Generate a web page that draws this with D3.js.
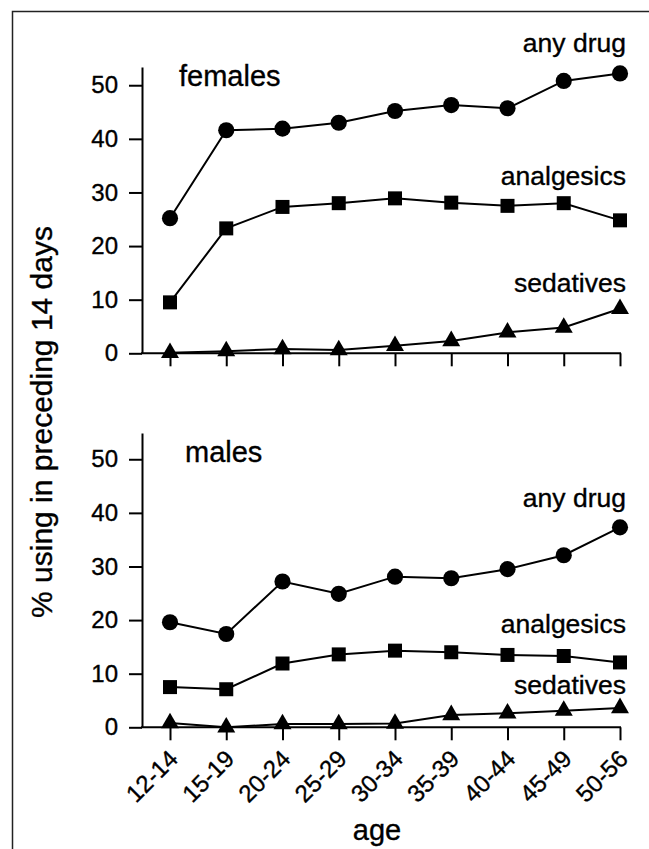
<!DOCTYPE html>
<html>
<head>
<meta charset="utf-8">
<script src="https://cdn.jsdelivr.net/npm/d3@7"></script>
<style>
  html, body { margin: 0; padding: 0; background: #fff; }
  svg { display: block; font-family: "Liberation Sans", Arial, sans-serif; }
  svg text { stroke: #000; stroke-width: 0.35px; }
</style>
</head>
<body>
<svg id="chart" width="649" height="849"></svg>
<script>
const ageGroups = ["12-14","15-19","20-24","25-29","30-34","35-39","40-44","45-49","50-56"];
const yTicks = [0, 10, 20, 30, 40, 50];

const femalesAny        = [25.2, 41.6, 41.9, 43.0, 45.2, 46.3, 45.7, 50.8, 52.2];
const femalesAnalgesics = [9.5, 23.3, 27.3, 28.0, 28.9, 28.1, 27.5, 28.0, 24.8];
const femalesSedatives  = [0.1, 0.4, 0.8, 0.6, 1.4, 2.3, 3.9, 4.8, 8.3];

const malesAny        = [19.6, 17.4, 27.2, 24.9, 28.1, 27.8, 29.5, 32.1, 37.3];
const malesAnalgesics = [7.5, 7.1, 11.9, 13.6, 14.3, 14.0, 13.5, 13.3, 12.1];
const malesSedatives  = [0.8, 0.0, 0.6, 0.6, 0.7, 2.3, 2.6, 3.1, 3.6];

const seriesNames = ["any drug", "analgesics", "sedatives"];

const svg = d3.select("#chart");

// frame
svg.append("path")
  .attr("d", "M12.5,849 L12.5,11.5 L649,11.5")
  .attr("fill", "none").attr("stroke", "#222").attr("stroke-width", 1.5);

const x = d3.scalePoint().domain(ageGroups).range([170, 620]);

const panels = [
  { title: "females", y0: 353.3, yTop: 67, domMax: 53.4,
    data: [femalesAny, femalesAnalgesics, femalesSedatives],
    titlePos: [179, 86],
    labelY: [52, 185, 292], showX: false },
  { title: "males", y0: 727.3, yTop: 433, domMax: 54.9,
    data: [malesAny, malesAnalgesics, malesSedatives],
    titlePos: [185, 462],
    labelY: [507, 633, 694], showX: true }
];

const symbols = [d3.symbolCircle, d3.symbolSquare, d3.symbolTriangle];
const symSizes = [205, 196, 140];

panels.forEach(p => {
  const y = d3.scaleLinear().domain([0, p.domMax]).range([p.y0, p.yTop]);
  const g = svg.append("g");

  // y axis
  const ya = g.append("g").attr("transform", "translate(142,0)")
    .call(d3.axisLeft(y).tickValues(yTicks).tickSize(13).tickSizeOuter(0).tickPadding(11));
  ya.select(".domain").attr("stroke-width", 2);
  ya.selectAll(".tick line").attr("stroke-width", 2);
  ya.selectAll(".tick text").attr("font-size", 24).attr("fill", "#000")
    .attr("font-family", "Liberation Sans, Arial, sans-serif");

  // x axis
  const xa = g.append("g").attr("transform", `translate(0,${p.y0})`)
    .call(d3.axisBottom(x).tickSize(13).tickSizeOuter(0));
  xa.select(".domain").remove();
  xa.selectAll(".tick line").attr("stroke-width", 2);
  if (p.showX) {
    xa.selectAll(".tick text")
      .attr("font-size", 24).attr("fill", "#000")
      .attr("font-family", "Liberation Sans, Arial, sans-serif")
      .attr("text-anchor", "end")
      .attr("dy", null).attr("y", null)
      .attr("transform", "translate(9,33) rotate(-45)");
  } else {
    xa.selectAll(".tick text").remove();
  }
  g.append("line")
    .attr("x1", 141).attr("x2", x(ageGroups[ageGroups.length - 1]) + 1)
    .attr("y1", p.y0).attr("y2", p.y0)
    .attr("stroke", "#000").attr("stroke-width", 2);

  // series
  const line = d3.line().x((d, i) => x(ageGroups[i])).y(d => y(d));
  p.data.forEach((vals, si) => {
    g.append("path").datum(vals).attr("d", line)
      .attr("fill", "none").attr("stroke", "#000").attr("stroke-width", 2);
    g.selectAll(null).data(vals).enter().append("path")
      .attr("d", d3.symbol().type(symbols[si]).size(symSizes[si]))
      .attr("transform", (d, i) => `translate(${x(ageGroups[i])},${y(d)})`)
      .attr("fill", "#000");
    g.append("text")
      .attr("x", 626).attr("y", p.labelY[si])
      .attr("text-anchor", "end").attr("font-size", 26.5).attr("fill", "#000")
      .text(seriesNames[si]);
  });

  g.append("text").attr("x", p.titlePos[0]).attr("y", p.titlePos[1])
    .attr("font-size", 29).attr("fill", "#000").text(p.title);
});

// axis titles
svg.append("text").attr("x", 377).attr("y", 840)
  .attr("text-anchor", "middle").attr("font-size", 29).attr("fill", "#000").text("age");
svg.append("text")
  .attr("transform", "translate(52,422) rotate(-90)")
  .attr("text-anchor", "middle").attr("font-size", 30).attr("fill", "#000")
  .text("% using in preceding 14 days");
</script>
</body>
</html>
